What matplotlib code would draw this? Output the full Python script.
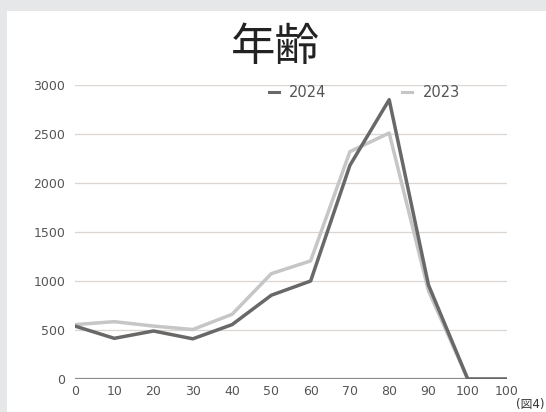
import numpy as np
import matplotlib.pyplot as plt
from matplotlib.patches import Rectangle

plt.rcParams['font.family'] = ['DejaVu Sans', 'Noto Sans CJK JP']

# age groups and counts
ages = ['0', '10', '20', '30', '40', '50', '60', '70', '80', '90', '100', '100']
y2024 = [540, 415, 490, 410, 555, 855, 1000, 2180, 2850, 960, 0, 0]
y2023 = [555, 585, 540, 505, 660, 1075, 1205, 2320, 2510, 900, 0, 0]

fig = plt.figure(figsize=(5.46, 4.12), dpi=100)
fig.patch.set_facecolor('#e6e7e9')
# white panel behind everything
fig.patches.append(Rectangle((7 / 546, 0), 1, 1 - 11 / 412, transform=fig.transFigure,
                             facecolor='white', edgecolor='none', zorder=-5))

ax = fig.add_axes([75 / 546, 33 / 412, 432 / 546, 294 / 412])
ax.set_facecolor('none')
ax.set_zorder(2)
x = np.arange(len(ages))

for v in range(500, 3001, 500):
    ax.axhline(v, color='#dcd5d0', lw=0.9, zorder=1)
ax.axhline(0, color='#8a8a8a', lw=1.6, zorder=1)

ax.plot(x, y2023, color='#c6c6c6', lw=2.5, zorder=2, label='2023')
ax.plot(x, y2024, color='#686868', lw=2.5, zorder=3, label='2024')

ax.set_xlim(0, len(ages) - 1)
ax.set_ylim(0, 3000)
ax.set_xticks(x)
ax.set_xticklabels(ages)
ax.set_yticks(range(0, 3001, 500))
ax.tick_params(length=0, labelsize=9, colors='#555555')
ax.tick_params(axis='y', pad=7)
ax.tick_params(axis='x', pad=4)
for s in ax.spines.values():
    s.set_visible(False)

h, l = ax.get_legend_handles_labels()
leg = ax.legend(h[::-1], l[::-1], loc='center left', bbox_to_anchor=(0.448, 0.975), ncol=2,
                frameon=False, fontsize=10.5, handlelength=0.7, columnspacing=5.2,
                handletextpad=0.7, borderpad=0, borderaxespad=0, labelcolor='#555555')
for ln in leg.get_lines():
    ln.set_linewidth(2.2)

fig.text(0.505, 0.887, '年齢', ha='center', va='center', fontsize=32, color='#222222',
         family='Noto Sans CJK JP')
fig.text(0.998, 0.003, '(図4)', ha='right', va='bottom', fontsize=8.5, color='#333333',
         family=['DejaVu Sans', 'Noto Sans CJK JP'])

fig.savefig('out.png', dpi=100, facecolor=fig.get_facecolor())
